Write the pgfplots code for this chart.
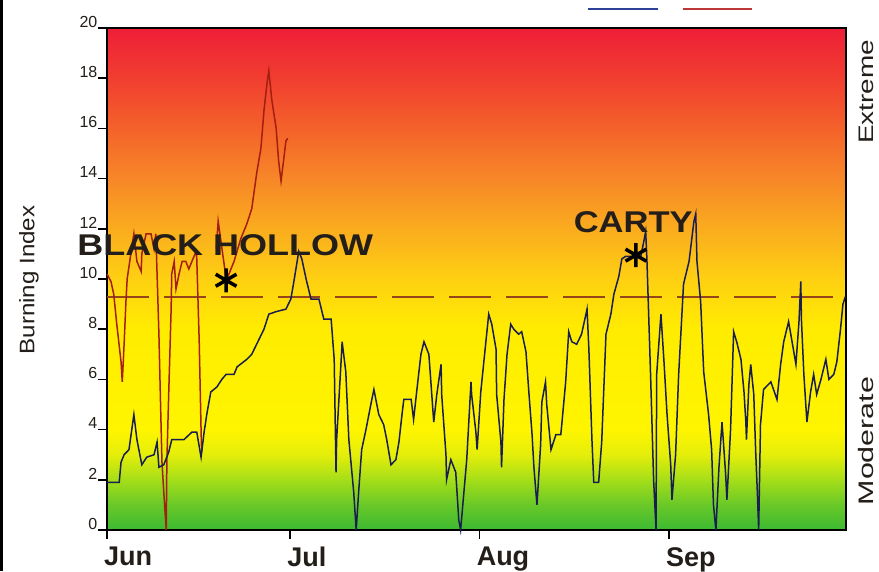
\documentclass[border=0pt]{standalone}
\usepackage{fontspec}
\setmainfont{Liberation Sans}
\usepackage{graphicx}
\usepackage{pgfplots}
\pgfplotsset{compat=1.18}

\definecolor{g0}{RGB}{60,185,50}
\definecolor{g1}{RGB}{105,200,40}
\definecolor{g2}{RGB}{165,222,25}
\definecolor{g3}{RGB}{228,238,10}
\definecolor{y4}{RGB}{255,245,0}
\definecolor{y8}{RGB}{255,236,0}
\definecolor{o10}{RGB}{254,208,18}
\definecolor{o12}{RGB}{250,172,30}
\definecolor{o14}{RGB}{247,135,40}
\definecolor{r16}{RGB}{244,98,42}
\definecolor{r18}{RGB}{241,62,48}
\definecolor{r20}{RGB}{238,30,55}
\definecolor{bluel}{RGB}{25,30,80}
\definecolor{redl}{RGB}{165,30,18}
\definecolor{dashc}{RGB}{150,68,25}
\definecolor{legblue}{RGB}{45,65,150}
\definecolor{legred}{RGB}{190,55,55}
\definecolor{txt}{RGB}{35,30,25}

\pgfdeclareverticalshading{bgshade}{100bp}{color(0bp)=(g0); color(25bp)=(g0); color(27.5bp)=(g1); color(30bp)=(g2); color(32.5bp)=(g3); color(35bp)=(y4); color(45bp)=(y8); color(50bp)=(o10); color(55bp)=(o12); color(60bp)=(o14); color(65bp)=(r16); color(70bp)=(r18); color(75bp)=(r20); color(100bp)=(r20)}

\begin{document}
\begin{tikzpicture}
\useasboundingbox (0,0) rectangle (879pt,571pt);
\fill[white] (0,0) rectangle (879pt,571pt);
\draw[black, line width=3pt] (1.5pt,0) -- (1.5pt,571pt);
\draw[color=legblue, line width=2pt] (588pt,562pt) -- (658pt,562pt);
\draw[color=legred, line width=2pt] (683pt,562pt) -- (752pt,562pt);
\node[rotate=90, font=\fontsize{21}{21}\selectfont, text=txt] at (29pt,291pt) {\scalebox{1.15}[1]{Burning Index}};
\node[rotate=90, font=\fontsize{21}{21}\selectfont, text=txt] at (866pt,479pt) {\scalebox{1.33}[1]{Extreme}};
\node[rotate=90, font=\fontsize{21}{21}\selectfont, text=txt] at (866pt,130pt) {\scalebox{1.45}[1]{Moderate}};
\begin{axis}[
  at={(107pt,41pt)}, anchor=south west,
  scale only axis, width=739pt, height=502pt,
  xmin=0, xmax=121, ymin=0, ymax=20,
  clip=false,
  axis background/.style={shade, shading=bgshade},
  axis line style={black, line width=1.5pt},
  tick align=outside, xtick pos=bottom, ytick pos=left,
  major tick length=9pt,
  tick style={black, line width=1.6pt},
  xtick={0,30,61,92}, xticklabels={Jun,Jul,Aug,Sep},
  ytick={0,2,...,20},
  /pgf/number format/assume math mode=true,
  yticklabel style={font=\fontsize{16}{16}\selectfont, anchor=south east, inner sep=0.5pt, text=txt},
  xticklabel style={font=\bfseries\fontsize{27}{27}\selectfont, anchor=north west, inner sep=0pt, xshift=-3pt, yshift=-8pt, text=txt},
]
\addplot[color=dashc, line width=2pt, dash pattern=on 42pt off 15pt] coordinates {(0,9.3) (121,9.3)};
\addplot[color=redl, line width=1.5pt] coordinates {
(0,10.2)(0.65,9.9)(1.1,9.4)(1.6,8.2)(2.3,6.7)(2.5,5.9)(2.8,7.4)(3.1,9.1)(3.3,10.0)(3.9,11.0)(4.4,11.8)(4.9,10.7)(5.6,10.3)(5.7,11.0)(6.4,11.8)(7.2,11.8)(7.7,11.2)(8.0,11.8)(8.5,7.8)(8.8,4.7)(9.0,2.7)(9.3,1.5)(9.7,0)(9.8,2.7)(10.1,5.4)(10.5,8.8)(10.6,10.2)(11.0,10.7)(11.3,9.6)(11.8,10.2)(12.3,10.7)(12.9,10.7)(13.4,10.4)(13.9,10.7)(14.6,11.1)(14.7,10.8)(15.1,7.5)(15.4,4.0)(15.5,3.1)
};
\addplot[color=redl, line width=1.5pt] coordinates {
(17.9,11.2)(18.2,12.3)(18.6,11.6)(19.4,10.2)(19.8,10.1)(20.8,10.7)(21.9,11.6)(22.9,12.2)(23.7,12.8)(24.5,14.2)(25.2,15.2)(25.7,16.7)(26.2,17.8)(26.5,18.3)(27.0,17.1)(27.7,16.0)(28.1,14.7)(28.5,13.9)(28.9,14.7)(29.3,15.5)(29.6,15.6)
};
\addplot[color=bluel, line width=1.5pt] coordinates {
(0,1.9)(2.0,1.9)(2.3,2.7)(2.8,3.0)(3.6,3.2)(4.4,4.6)(4.9,3.6)(5.7,2.6)(6.5,2.9)(7.7,3.0)(8.2,3.5)(8.5,2.5)(9.3,2.6)(10.1,3.1)(10.6,3.6)(12.6,3.6)(13.9,3.9)(14.7,3.9)(15.4,2.9)(15.9,3.9)(16.4,4.7)(17.0,5.5)(18.0,5.7)(18.8,6.0)(19.5,6.2)(20.8,6.2)(21.3,6.5)(22.9,6.8)(23.7,7.0)(24.5,7.4)(25.7,8.0)(26.5,8.6)(27.7,8.7)(29.3,8.8)(30.1,9.2)(30.6,9.9)(31.4,11.1)(31.9,10.8)(32.6,10.0)(33.4,9.2)(34.7,9.2)(35.5,8.4)(36.7,8.4)(37.2,6.8)(37.5,2.3)(37.6,3.6)(38.3,6.6)(38.5,7.5)(39.1,6.3)(39.6,3.6)(40.4,1.5)(40.8,0)(41.2,1.5)(41.7,3.2)(42.4,4.0)(43.2,5.0)(43.7,5.6)(44.5,4.6)(45.3,4.2)(45.8,3.6)(46.5,2.6)(47.3,2.8)(47.8,3.5)(48.3,4.6)(48.6,5.2)(49.8,5.2)(50.2,4.4)(50.7,5.5)(51.4,7.0)(51.9,7.5)(52.7,7.0)(53.0,6.0)(53.5,4.3)(54.0,5.4)(54.7,6.6)(54.8,5.4)(55.5,3.0)(55.6,2.0)(56.3,2.8)(57.1,2.3)(57.6,0.4)(57.9,0)(58.4,1.4)(58.9,2.8)(59.6,5.9)(59.7,5.4)(60.4,3.9)(60.6,3.2)(61.2,5.5)(61.7,6.7)(62.5,8.6)(63.0,8.2)(63.7,7.2)(63.8,5.4)(64.5,3.5)(64.6,2.5)(65.0,5.2)(65.5,7.0)(66.1,8.2)(66.6,8.0)(67.4,7.8)(67.9,7.9)(68.6,7.1)(69.1,5.4)(69.6,3.8)(69.9,2.5)(70.4,1.0)(71.0,3.4)(71.2,5.1)(71.8,5.9)(72.0,5.0)(72.7,3.2)(73.5,3.8)(74.3,3.8)(74.5,4.3)(75.1,5.9)(75.6,7.9)(76.1,7.5)(76.9,7.4)(77.7,7.8)(78.6,8.8)(78.9,7.2)(79.4,3.6)(79.7,1.9)(80.5,1.9)(81.0,3.5)(81.7,7.8)(82.5,8.6)(83.0,9.4)(83.8,10.1)(84.3,10.8)(84.9,10.9)(87.4,10.9)(87.9,11.5)(88.2,11.9)(88.4,10.8)(89.0,6.2)(89.5,2.0)(89.9,0)(90.0,6.2)(90.7,8.6)(91.2,6.7)(91.7,4.6)(92.3,2.6)(92.5,1.2)(93.1,3.0)(93.6,6.2)(94.4,9.8)(95.3,10.7)(96.1,12.3)(96.4,12.6)(96.6,10.7)(97.2,9.1)(97.7,6.3)(98.5,4.6)(99.0,3.2)(99.3,1.0)(99.7,0)(100.2,2.5)(100.7,4.3)(101.3,2.2)(101.5,1.2)(102.1,4.0)(102.6,7.9)(103.1,7.5)(103.8,6.8)(104.3,5.5)(104.6,4.3)(104.7,3.6)(105.1,5.8)(105.4,6.6)(105.9,5.4)(106.2,3.2)(106.5,1.4)(106.7,0)(107.0,4.2)(107.5,5.6)(108.7,5.9)(109.7,5.2)(110.3,6.6)(110.8,7.5)(111.6,8.3)(112.1,7.6)(112.8,6.6)(113.3,8.3)(113.6,9.9)(113.7,8.4)(114.1,6.2)(114.6,4.3)(115.2,5.5)(115.7,6.2)(116.2,5.4)(116.9,6.0)(117.7,6.8)(118.2,6.0)(119.0,6.2)(119.5,6.7)(120.1,8.0)(120.5,9.0)(120.9,9.3)
};
\addplot[only marks, mark=asterisk, mark size=12pt, mark options={line width=3.5pt, draw=black}] coordinates {(19.5,9.95) (86.6,10.95)};
\node[anchor=west, inner sep=0pt, text=txt, font=\bfseries\fontsize{30}{30}\selectfont] at (axis cs:-4.9,11.35) {\scalebox{1.2}[1]{BLACK HOLLOW}};
\node[anchor=west, inner sep=0pt, text=txt, font=\bfseries\fontsize{30}{30}\selectfont] at (axis cs:76.4,12.25) {\scalebox{1.15}[1]{CARTY}};
\end{axis}
\end{tikzpicture}
\end{document}
